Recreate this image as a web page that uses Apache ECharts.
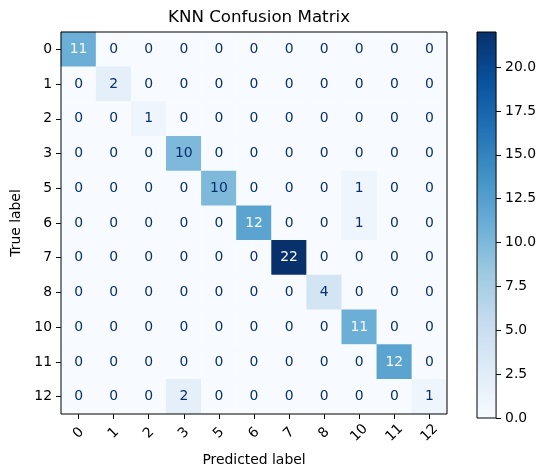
<!DOCTYPE html>
<html>
<head>
<meta charset="utf-8">
<script src="https://cdn.jsdelivr.net/npm/echarts@6/dist/echarts.min.js"></script>
<style>
html,body{margin:0;padding:0;background:#fff;}
#chart{width:539px;height:472px;}
</style>
</head>
<body>
<div id="chart"></div>
<script>
// Class labels (true rows / predicted columns)
const classLabels = ['0','1','2','3','5','6','7','8','10','11','12'];
// Confusion matrix rows (true label), columns (predicted label)
const row_0  = [11,0,0,0,0,0,0,0,0,0,0];
const row_1  = [0,2,0,0,0,0,0,0,0,0,0];
const row_2  = [0,0,1,0,0,0,0,0,0,0,0];
const row_3  = [0,0,0,10,0,0,0,0,0,0,0];
const row_5  = [0,0,0,0,10,0,0,0,1,0,0];
const row_6  = [0,0,0,0,0,12,0,0,1,0,0];
const row_7  = [0,0,0,0,0,0,22,0,0,0,0];
const row_8  = [0,0,0,0,0,0,0,4,0,0,0];
const row_10 = [0,0,0,0,0,0,0,0,11,0,0];
const row_11 = [0,0,0,0,0,0,0,0,0,12,0];
const row_12 = [0,0,0,2,0,0,0,0,0,0,1];
const matrixRows = [row_0,row_1,row_2,row_3,row_5,row_6,row_7,row_8,row_10,row_11,row_12];
// Colorbar tick values
const colorbarTicks = [0,2.5,5,7.5,10,12.5,15,17.5,20];

const blues = ['#f7fbff','#deebf7','#c6dbef','#9ecae1','#6baed6','#4292c6','#2171b5','#08519c','#08306b'];

let vmax = -Infinity, vmin = Infinity;
matrixRows.forEach(r => r.forEach(v => { vmax = Math.max(vmax, v); vmin = Math.min(vmin, v); }));
const thresh = (vmax + vmin) / 2;

const heatData = [];
matrixRows.forEach((r, i) => {
  r.forEach((v, j) => {
    heatData.push({
      value: [j, i, v],
      label: { color: v < thresh ? blues[8] : blues[0] }
    });
  });
});

// colorbar gradient (top = max, bottom = min)
const barGradient = new echarts.graphic.LinearGradient(0, 1, 0, 0,
  blues.map((c, k) => ({ offset: k / (blues.length - 1), color: c })));

const FONT = 'DejaVu Sans';
const chart = echarts.init(document.getElementById('chart'));
chart.setOption({
  animation: false,
  backgroundColor: '#fff',
  title: {
    text: 'KNN Confusion Matrix',
    left: 254,
    textAlign: 'center',
    top: 4,
    textStyle: { fontFamily: FONT, fontSize: 16.7, fontWeight: 'normal', color: '#000' }
  },
  grid: [
    { left: 61, top: 32, width: 386, height: 386, show: true, z: 3,
      backgroundColor: 'transparent', borderColor: '#000', borderWidth: 1 },
    { left: 477, top: 32, width: 20, height: 386, show: true, z: 1,
      backgroundColor: barGradient, borderColor: '#000', borderWidth: 1 }
  ],
  xAxis: [
    {
      type: 'category', gridIndex: 0, data: classLabels, position: 'bottom',
      name: 'Predicted label', nameLocation: 'middle', nameGap: 39,
      nameTextStyle: { fontFamily: FONT, fontSize: 13.9, color: '#000' },
      axisLine: { show: false },
      axisTick: { show: true, alignWithLabel: true, length: 5, lineStyle: { color: '#000' } },
      axisLabel: { rotate: 45, align: 'center', verticalAlign: 'middle', margin: 19,
        fontFamily: FONT, fontSize: 13.9, color: '#000', interval: 0 },
      splitLine: { show: false }, splitArea: { show: false }
    },
    { type: 'value', gridIndex: 1, show: false, min: 0, max: 1,
      axisLine: { show: false, onZero: false }, axisTick: { show: false },
      axisLabel: { show: false }, splitLine: { show: false } }
  ],
  yAxis: [
    {
      type: 'category', gridIndex: 0, data: classLabels, inverse: true,
      name: 'True label', nameLocation: 'middle', nameGap: 35,
      nameTextStyle: { fontFamily: FONT, fontSize: 13.9, color: '#000' },
      axisLine: { show: false },
      axisTick: { show: true, alignWithLabel: true, length: 5, lineStyle: { color: '#000' } },
      axisLabel: { margin: 9, fontFamily: FONT, fontSize: 13.9, color: '#000', interval: 0 },
      splitLine: { show: false }, splitArea: { show: false }
    },
    {
      type: 'value', gridIndex: 1, min: 0, max: vmax, position: 'right',
      axisLine: { show: false, onZero: false },
      axisTick: { show: true, inside: false, length: 5, lineStyle: { color: '#000' }, customValues: colorbarTicks },
      axisLabel: { margin: 9, fontFamily: FONT, fontSize: 13.9, color: '#000',
        customValues: colorbarTicks, formatter: v => Number(v).toFixed(1) },
      splitLine: { show: false }
    }
  ],
  visualMap: {
    type: 'continuous',
    show: false,
    seriesIndex: 0,
    min: 0, max: vmax,
    inRange: { color: blues }
  },
  series: [{
    type: 'heatmap',
    xAxisIndex: 0, yAxisIndex: 0,
    data: heatData,
    itemStyle: { borderWidth: 0 },
    label: {
      show: true,
      fontFamily: FONT, fontSize: 13.9,
      formatter: p => String(p.value[2])
    },
    emphasis: { disabled: true }
  }]
});
</script>
</body>
</html>
